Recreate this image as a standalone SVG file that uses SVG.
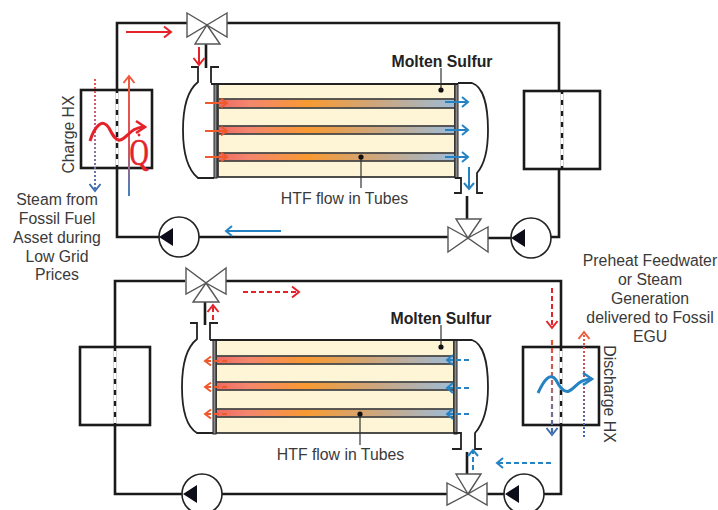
<svg xmlns="http://www.w3.org/2000/svg" width="718" height="510" viewBox="0 0 718 510">
<style>
.p{fill:none;stroke:#1a1a1a;stroke-width:2.6}
.t{fill:none;stroke:#222;stroke-width:1.8}
.v{fill:#fff;stroke:#555;stroke-width:1.4}
.hx{fill:#fff;stroke:#1a1a1a;stroke-width:2.6}
.d{fill:none;stroke:#fff;stroke-width:2.8;stroke-dasharray:6 5}
.pc{fill:#fff;stroke:#222;stroke-width:1.6}
.pt{fill:#0d0d1a}
.y{fill:#fdf5d6;stroke:#222;stroke-width:1.6}
.tb{stroke:#4a4a4a;stroke-width:1.8}
.ts{fill:#8a8a8a;stroke:#222;stroke-width:1}
.l{font-family:"Liberation Sans",Arial,sans-serif;font-size:15.8px;fill:#3a3a3a;text-anchor:middle}
.b{font-weight:bold;fill:#222;font-size:15.8px}
.ld{stroke:#333;stroke-width:1.2;fill:none}
.a{fill:none;stroke-width:2}
.r{stroke:#e5222a;marker-end:url(#mr)}
.o{stroke:#ee5a2c;marker-end:url(#mo)}
.bl{stroke:#2583c4;marker-end:url(#mb)}
.dash{stroke-dasharray:5 3}
</style>
<defs>
<marker id="mr" markerUnits="userSpaceOnUse" markerWidth="14" markerHeight="14" refX="9" refY="6" orient="auto" overflow="visible"><path d="M2 0.5L9 6L2 11.5" fill="none" stroke="#e5222a" stroke-width="2"/></marker>
<marker id="mo" markerUnits="userSpaceOnUse" markerWidth="14" markerHeight="14" refX="9" refY="6" orient="auto" overflow="visible"><path d="M3 1.5L9 6L3 10.5" fill="none" stroke="#ee5a2c" stroke-width="2"/></marker>
<marker id="mb" markerUnits="userSpaceOnUse" markerWidth="14" markerHeight="14" refX="9" refY="6" orient="auto" overflow="visible"><path d="M3 1L9 6L3 11" fill="none" stroke="#2583c4" stroke-width="2"/></marker>
<marker id="mn" markerUnits="userSpaceOnUse" markerWidth="14" markerHeight="14" refX="9" refY="6" orient="auto" overflow="visible"><path d="M2 0.5L9 6L2 11.5" fill="none" stroke="#3f6fb0" stroke-width="2"/></marker>
<marker id="mw" markerUnits="userSpaceOnUse" markerWidth="14" markerHeight="14" refX="9" refY="6" orient="auto" overflow="visible"><path d="M2 0.5L9 6L2 11.5" fill="none" stroke="#ee5a3c" stroke-width="2"/></marker>
<marker id="mq" markerUnits="userSpaceOnUse" markerWidth="16" markerHeight="16" refX="11" refY="7" orient="auto" overflow="visible"><path d="M2 1L11 7L2 13" fill="none" stroke="#e5222a" stroke-width="2.6"/></marker>
<marker id="mz" markerUnits="userSpaceOnUse" markerWidth="16" markerHeight="16" refX="11" refY="7" orient="auto" overflow="visible"><path d="M2 1L11 7L2 13" fill="none" stroke="#2583c4" stroke-width="2.6"/></marker>
<linearGradient id="tube"><stop offset="0" stop-color="#ee6a62"/><stop offset=".13" stop-color="#f3866e"/><stop offset=".38" stop-color="#f89a32"/><stop offset=".7" stop-color="#c9a885"/><stop offset="1" stop-color="#9dbcd8"/></linearGradient>
<linearGradient id="g1" gradientUnits="userSpaceOnUse" x1="0" y1="80" x2="0" y2="195"><stop offset="0" stop-color="#ee5050"/><stop offset=".5" stop-color="#a3708f"/><stop offset="1" stop-color="#3f78b8"/></linearGradient>
<linearGradient id="g2" gradientUnits="userSpaceOnUse" x1="0" y1="76" x2="0" y2="196"><stop offset="0" stop-color="#ee5a3c"/><stop offset=".55" stop-color="#e0505a"/><stop offset="1" stop-color="#3f84c0"/></linearGradient>
<linearGradient id="g3" gradientUnits="userSpaceOnUse" x1="0" y1="340" x2="0" y2="435"><stop offset="0" stop-color="#ee4a30"/><stop offset=".5" stop-color="#b06a70"/><stop offset="1" stop-color="#3f6fb0"/></linearGradient>
<linearGradient id="g4" gradientUnits="userSpaceOnUse" x1="0" y1="332" x2="0" y2="437"><stop offset="0" stop-color="#ee5a3c"/><stop offset=".5" stop-color="#b04a70"/><stop offset="1" stop-color="#2f70b8"/></linearGradient>
</defs>

<g id="connectors">
<path class="p" d="M187 23H117V237H159"/>
<path class="p" d="M227 23H559V237H551"/>
<path class="p" d="M199 237H448M488 238H511"/>
<path class="p" d="M206 44V68M467 196V219"/>
<path class="p" d="M185 281H115V494H182"/>
<path class="p" d="M226 281H561V494H544"/>
<path class="p" d="M222 494H448M487 494H504"/>
<path class="p" d="M205 302V325M467 452V474"/>
</g>

<g id="charge-hx"><rect class="hx" x="81" y="90" width="71" height="78"/><line x1="117" y1="90" x2="117" y2="168" stroke="#1a1a1a" stroke-width="2.6"/><line class="d" x1="117" y1="93" x2="117" y2="168"/></g>
<g id="top-right-hx"><rect class="hx" x="524" y="91" width="76" height="78"/><line x1="562" y1="91" x2="562" y2="169" stroke="#1a1a1a" stroke-width="2.6"/><line class="d" x1="562" y1="94" x2="562" y2="169"/></g>
<g id="bottom-left-hx"><rect class="hx" x="80" y="347" width="70" height="78"/><line x1="115" y1="347" x2="115" y2="425" stroke="#1a1a1a" stroke-width="2.6"/><line class="d" x1="115" y1="351" x2="115" y2="425"/></g>
<g id="discharge-hx"><rect class="hx" x="523" y="347" width="76" height="78"/><line x1="561" y1="347" x2="561" y2="425" stroke="#1a1a1a" stroke-width="2.6"/><line class="d" x1="561" y1="351" x2="561" y2="425"/></g>

<g id="top-tank">
<rect class="y" x="218" y="84" width="237" height="93"/>
<g class="tb" fill="url(#tube)"><rect x="218" y="99" width="237" height="9"/><rect x="218" y="126" width="237" height="8"/><rect x="218" y="153" width="237" height="8"/></g>
<rect class="ts" x="214" y="84" width="3" height="94"/><rect class="ts" x="455" y="84" width="3" height="94"/>
<path class="t" d="M191 67H198V82C188 90 183 108 183 130C183 155 188 170 198 178H214"/>
<path class="t" d="M219 67H211V83M211 84H458"/>
<path class="t" d="M458 83H472C484 87 488 108 488 130C488 150 484 165 477 173V193H483"/>
<path class="t" d="M455 178H461V193H454"/>
</g>
<g id="top-valve-1"><path class="v" d="M187 13L207 25L187 37ZM227 13L207 25L227 37ZM207 25L220 44H195Z"/></g>
<g id="top-valve-2"><path class="v" d="M448 227L468 238L448 252ZM488 227L468 238L488 252ZM468 238L481 219H456Z"/></g>
<g id="top-pump-1"><circle class="pc" cx="179" cy="237" r="20"/><path class="pt" d="M159 237L173 228V246Z"/></g>
<g id="top-pump-2"><circle class="pc" cx="531" cy="238" r="20"/><path class="pt" d="M511 238L525 229V247Z"/></g>

<g id="bottom-tank">
<rect class="y" x="216" y="340" width="238" height="93"/>
<g class="tb" fill="url(#tube)"><rect x="216" y="356" width="238" height="8"/><rect x="216" y="382" width="238" height="8"/><rect x="216" y="409" width="238" height="8"/></g>
<rect class="ts" x="213" y="340" width="3" height="94"/><rect class="ts" x="454" y="340" width="3" height="94"/>
<path class="t" d="M190 323H197V339C187 347 182 365 182 387C182 412 187 427 197 433H213"/>
<path class="t" d="M218 323H210V340M210 340H472C484 344 488 365 488 387C488 407 484 423 475 433V449H482"/>
<path class="t" d="M454 433H461V449H452"/>
</g>
<g id="bottom-valve-1"><path class="v" d="M186 268L206 283L186 294ZM226 268L206 283L226 294ZM206 283L219 302H193Z"/></g>
<g id="bottom-valve-2"><path class="v" d="M447 483L468 494L447 505ZM487 483L468 494L487 505ZM468 494L481 474H456Z"/></g>
<g id="bottom-pump-1"><circle class="pc" cx="202" cy="494" r="20"/><path class="pt" d="M183 494L197 485V503Z"/></g>
<g id="bottom-pump-2"><circle class="pc" cx="524" cy="494" r="20"/><path class="pt" d="M505 494L519 485V503Z"/></g>

<g id="flow-arrows">
<path class="a r" d="M126 32H171"/>
<path class="a r" d="M199 47V65"/>
<path class="a o" d="M205 103H227"/><path class="a o" d="M205 131H227"/><path class="a o" d="M205 157H227"/>
<path class="a bl" d="M445 102H468"/><path class="a bl" d="M445 130H468"/><path class="a bl" d="M445 157H468"/>
<path class="a bl" d="M469 167V189"/>
<path class="a bl" d="M281 231H226"/>
<path d="M95 79V191" fill="none" stroke="url(#g1)" stroke-width="2" stroke-dasharray="2 2" marker-end="url(#mn)"/>
<path d="M129 196V76" fill="none" stroke="url(#g2)" stroke-width="2" marker-end="url(#mw)"/>
<path d="M90 141C95 125 103 118 109 128C113 136 116 141 120 140C128 138 130 127 145 127" fill="none" stroke="#e5222a" stroke-width="3" marker-end="url(#mq)"/>
<path class="a dash r" d="M243 292H299"/>
<path class="a dash r" d="M213 320V305"/>
<path class="a dash o" d="M227 361H205"/><path class="a dash o" d="M227 387H205"/><path class="a dash o" d="M227 414H205"/>
<path class="a dash bl" d="M469 360H447"/><path class="a dash bl" d="M469 388H447"/><path class="a dash bl" d="M469 414H447"/>
<path class="a dash bl" d="M473 470V450"/>
<path class="a dash bl" d="M551 463H497"/>
<path class="a dash r" d="M552 288V328"/>
<path d="M552 340V435" fill="none" stroke="url(#g3)" stroke-width="2.2" stroke-dasharray="5 3" marker-end="url(#mn)"/>
<path d="M584 437V332" fill="none" stroke="url(#g4)" stroke-width="2" stroke-dasharray="2 2" marker-end="url(#mw)"/>
<path d="M538 393C544 380 550 372 556 380C560 388 564 393 569 391C576 388 578 379 592 379" fill="none" stroke="#2583c4" stroke-width="3" marker-end="url(#mz)"/>
</g>

<g id="labels">
<text x="442" y="67" class="l b">Molten Sulfur</text>
<path class="ld" d="M441 68V90"/><circle cx="441" cy="90" r="2.6" fill="#111"/>
<path class="ld" d="M361 157V188"/><circle cx="361" cy="157" r="2.6" fill="#111"/>
<text x="344.500" y="204" class="l">HTF flow in Tubes</text>
<text x="441" y="324" class="l b">Molten Sulfur</text>
<path class="ld" d="M441 325V347"/><circle cx="441" cy="347" r="2.6" fill="#111"/>
<path class="ld" d="M360 414V445"/><circle cx="360" cy="414" r="2.6" fill="#111"/>
<text x="340.500" y="460" class="l">HTF flow in Tubes</text>
<text transform="translate(74 134.500) rotate(-90)" class="l">Charge HX</text>
<text transform="translate(604 394) rotate(90)" class="l">Discharge HX</text>
<text x="57" y="205" class="l">Steam from</text>
<text x="57" y="224" class="l">Fossil Fuel</text>
<text x="57" y="243" class="l">Asset during</text>
<text x="57" y="262" class="l">Low Grid</text>
<text x="57" y="280" class="l">Prices</text>
<text x="650" y="266" class="l">Preheat Feedwater</text>
<text x="650" y="285" class="l">or Steam</text>
<text x="650" y="304" class="l">Generation</text>
<text x="650" y="323" class="l">delivered to Fossil</text>
<text x="650" y="342" class="l">EGU</text>
<text transform="translate(139 165) scale(.72 1)" font-family="Liberation Serif,serif" font-size="37" fill="#e5222a" stroke="#e5222a" stroke-width=".7" text-anchor="middle">Q</text>
<circle cx="139" cy="135" r="1.4" fill="#e5222a"/>
</g>
</svg>
